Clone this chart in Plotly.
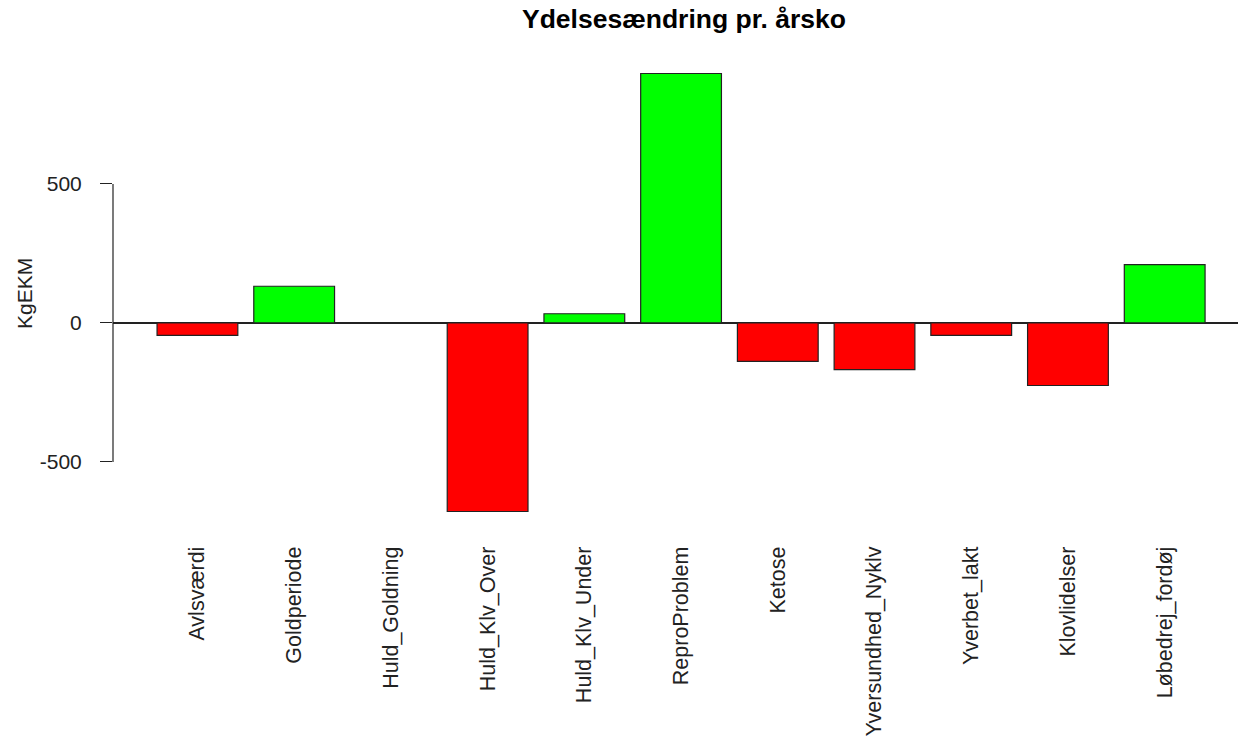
import plotly.graph_objects as go

categories = ["Avlsværdi", "Goldperiode", "Huld_Goldning", "Huld_Klv_Over", "Huld_Klv_Under",
              "ReproProblem", "Ketose", "Yversundhed_Nyklv", "Yverbet_lakt", "Klovlidelser",
              "Løbedrej_fordøj"]
values = [-45, 132, 0, -678, 33, 897, -138, -168, -45, -225, 210]
tick_vals = [-500, 0, 500]
tick_text = ["-500", "0", "500"]

colors = ["#00FF00" if v > 0 else "#FF0000" for v in values]
FONT = "Liberation Sans, Arial, sans-serif"
FS = 21
W, H = 1238, 740

fig = go.Figure(go.Bar(
    x=categories, y=values,
    marker=dict(color=colors, line=dict(color="#222222", width=1.2)),
))

fig.update_layout(
    width=W, height=H,
    margin=dict(l=113, r=0, t=56, b=211, autoexpand=False),
    paper_bgcolor="white", plot_bgcolor="white",
    bargap=0.165,
    showlegend=False,
    font=dict(family=FONT, size=FS, color="#222222"),
    title=dict(text="<b>Ydelsesændring pr. årsko</b>", xref="container", x=684 / W,
               xanchor="center", yref="container", y=1 - 19 / H, yanchor="middle",
               font=dict(family=FONT, size=26.5, color="#000000")),
)
fig.update_xaxes(
    range=[-0.873, 10.758], showline=False, showgrid=False, zeroline=False, automargin=False,
    tickangle=-90, ticks="outside", ticklen=0, ticklabelstandoff=8,
    tickfont=dict(family=FONT, size=21.5, color="#222222"),
)
fig.update_yaxes(
    range=[-741, 960], showline=False, showgrid=False, automargin=False,
    zeroline=True, zerolinecolor="#222222", zerolinewidth=1.5,
    tickvals=tick_vals, ticktext=tick_text, ticks="outside", ticklen=12,
    tickcolor="#222222", tickwidth=1.2, ticklabelstandoff=14,
    tickfont=dict(family=FONT, size=FS, color="#222222"),
)
fig.add_shape(type="line", xref="paper", yref="y", x0=0, x1=0,
              y0=tick_vals[0], y1=tick_vals[-1], line=dict(color="#222222", width=1.2))
fig.add_annotation(text="KgEKM", textangle=-90, xref="paper", yref="paper",
                   x=(24 - 113) / 1125, y=(529 - 294) / 473, xanchor="center", yanchor="middle",
                   showarrow=False, font=dict(family=FONT, size=FS, color="#222222"))

fig.write_html("out.html", config={"displayModeBar": False},
               post_script="document.body.style.margin='0';")
